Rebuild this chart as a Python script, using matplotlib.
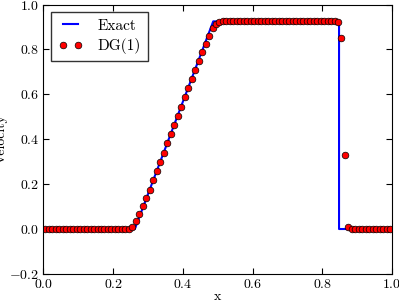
import numpy as np
import matplotlib
matplotlib.use("Agg")
import matplotlib.pyplot as plt

plt.rcParams['font.family'] = 'serif'
plt.rcParams['font.serif'] = ['cmr10']
plt.rcParams['mathtext.fontset'] = 'cm'
plt.rcParams['axes.formatter.use_mathtext'] = True
plt.rcParams['axes.unicode_minus'] = True

# Exact solution (piecewise linear)
x_exact = [0.0, 0.262, 0.487, 0.848, 0.848, 1.0]
u_exact = [0.0, 0.0, 0.925, 0.925, 0.0, 0.0]

# DG(1) cell-centre values, 100 cells
x_dg = [0.005 + 0.01 * i for i in range(100)]
u_dg = [0.0] * 25 + [
    0.008, 0.035, 0.066, 0.103, 0.140, 0.176, 0.217, 0.258, 0.299, 0.340,
    0.381, 0.422, 0.463, 0.504, 0.545, 0.586, 0.627, 0.668, 0.709, 0.750,
    0.788, 0.826, 0.862, 0.895, 0.915, 0.924,
] + [0.927] * 33 + [0.92, 0.85, 0.33, 0.008] + [0.0] * 12

fig = plt.figure(figsize=(3.99, 3.02), dpi=100)
ax = fig.add_axes([0.109, 0.093, 0.8735, 0.892])

ax.plot(x_exact, u_exact, color='b', lw=1.5, label='Exact')
ax.plot(x_dg, u_dg, 'o', color='r', mec='k', mew=0.5, ms=4.8, label='DG(1)')

ax.set_xlim(0, 1)
ax.set_ylim(-0.2, 1.0)
ax.set_xticks([0.0, 0.2, 0.4, 0.6, 0.8, 1.0])
ax.set_yticks([-0.2, 0.0, 0.2, 0.4, 0.6, 0.8, 1.0])
ax.tick_params(direction='in', top=True, right=True, labelsize=10, length=4, pad=3)
ax.set_xlabel('x', fontsize=10, fontweight='bold', labelpad=0)
ax.set_ylabel('Velocity', fontsize=10, labelpad=1)

leg = ax.legend(loc='upper left', numpoints=2, fontsize=11, fancybox=False,
                borderaxespad=0.5, handlelength=1.6, handletextpad=1.0,
                labelspacing=0.35, borderpad=0.45)
leg.get_frame().set_edgecolor('k')

fig.savefig('out.png', dpi=100, facecolor='white')
